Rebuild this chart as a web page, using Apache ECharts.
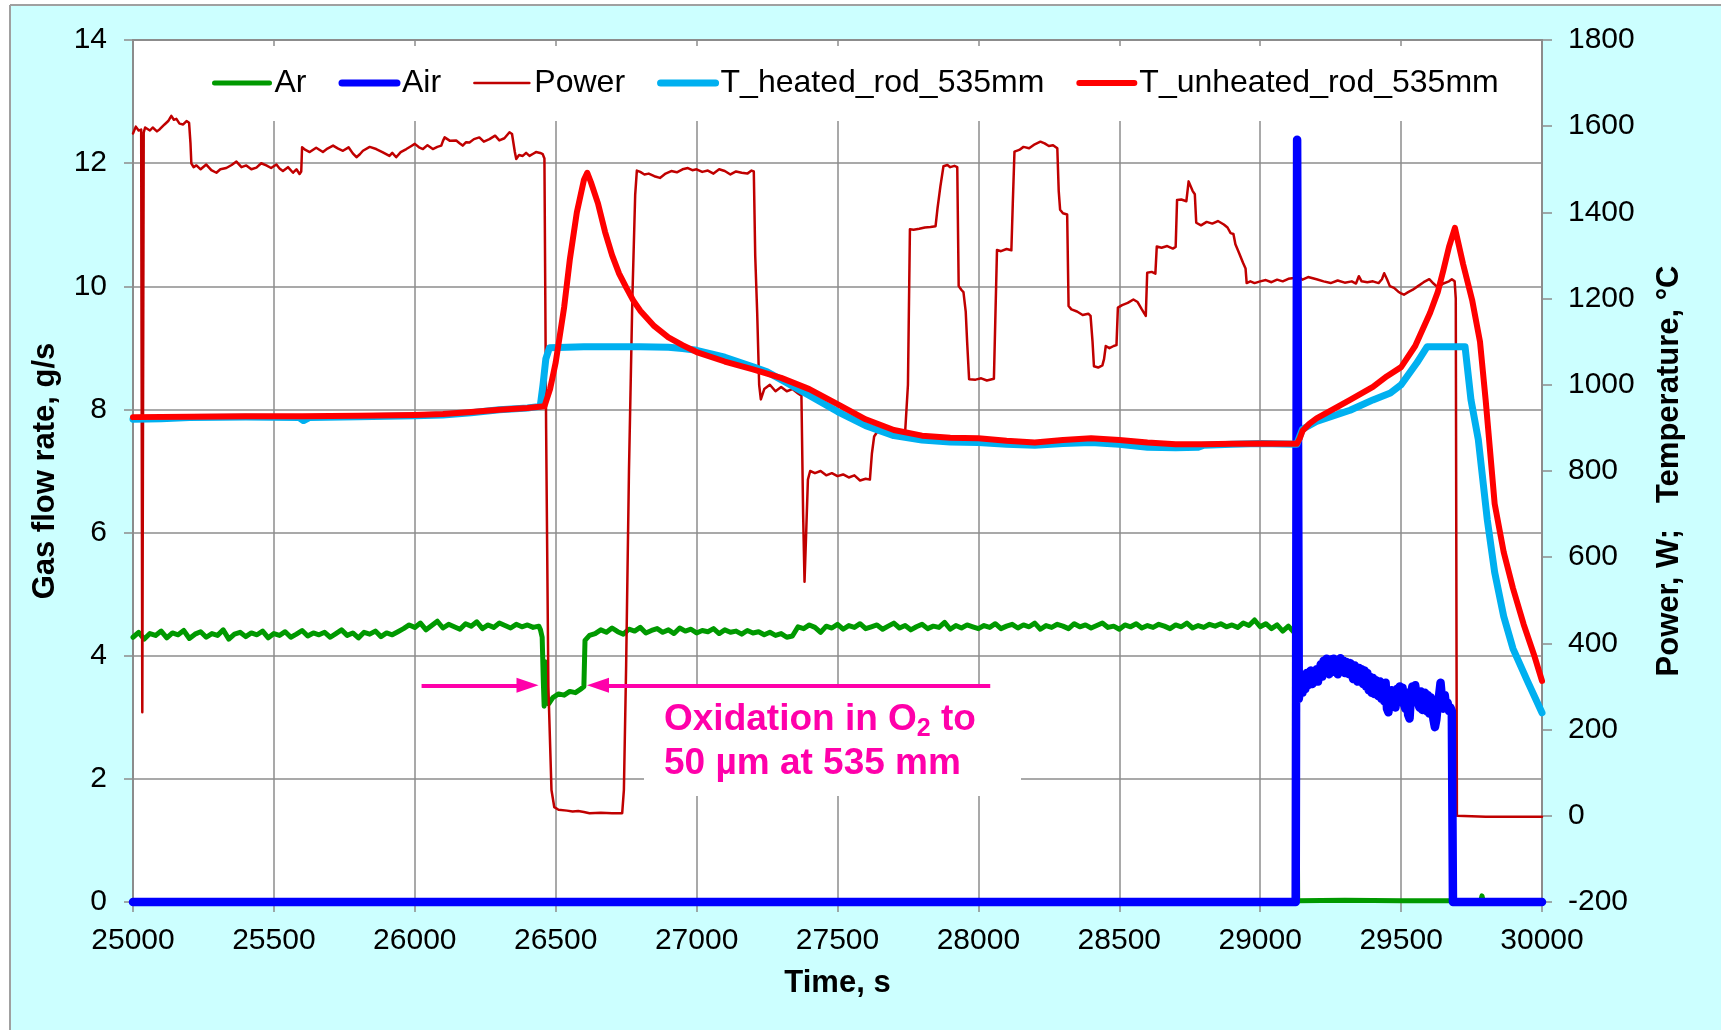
<!DOCTYPE html>
<html><head><meta charset="utf-8">
<script src="https://cdn.jsdelivr.net/npm/echarts@6/dist/echarts.min.js"></script>
<style>html,body{margin:0;padding:0;background:#fff;}#c{width:1721px;height:1030px;}</style>
</head><body><div id="c"></div>
<script>
// ---------------- DATA ----------------
const seriesNames = ['Ar', 'Air', 'Power', 'T_heated_rod_535mm', 'T_unheated_rod_535mm'];

// Ar gas flow rate (g/s), segments sampled every 20 s
const arSeg1Start = 25000;
const arSeg1 = [4.30,4.38,4.27,4.36,4.33,4.40,4.29,4.37,4.34,4.41,
  4.28,4.35,4.39,4.30,4.36,4.33,4.42,4.27,4.35,4.38,
  4.31,4.37,4.34,4.40,4.29,4.36,4.33,4.39,4.30,4.35,
  4.41,4.32,4.37,4.34,4.38,4.30,4.36,4.42,4.33,4.37,
  4.29,4.38,4.35,4.40,4.31,4.37,4.34,4.39];
const arSeg2Start = 25960;
const arSeg2 = [4.44,4.50,4.46,4.53,4.42,4.49,4.56,4.45,4.51,4.47,4.43,4.52,4.48,4.55,4.44,4.50,4.46,4.53,4.49,4.45,4.51,4.47,4.50,4.46,4.48];
const arDip = [[26446,4.42],[26452,4.30],[26456,3.6],[26459,3.18],[26463,3.9],[26468,3.3],[26475,3.22],[26490,3.32],[26510,3.38],[26530,3.36],[26550,3.42],[26570,3.40],[26590,3.46],[26600,3.5],[26604,4.25],[26620,4.33]];
const arSeg3Start = 26640;
const arSeg3 = [4.36,4.42,4.38,4.45,4.39,4.35,4.43,4.40,4.46,4.37,
  4.41,4.44,4.38,4.42,4.36,4.45,4.40,4.43,4.37,4.41,
  4.39,4.44,4.36,4.42,4.38,4.40,4.35,4.41,4.37,4.39,
  4.34,4.38,4.33,4.36,
  4.30,4.32,
  4.47,4.44,4.50,4.46,4.38,4.48,4.45,4.51,4.43,4.49,
  4.46,4.52,4.44,4.47,4.50,4.43,4.48,4.53,4.45,4.49,
  4.42,4.47,4.51,4.44,4.48,4.46,4.54,4.43,4.49,4.45,
  4.50,4.47,4.44,
  4.49,4.46,4.52,4.44,4.48,4.51,4.45,4.50,4.47,4.53,
  4.43,4.49,4.46,4.51,4.48,4.44,4.52,4.47,4.50,4.45,
  4.49,4.53,4.46,4.48,4.43,4.50,4.47,4.52,4.45,4.49,
  4.46,4.51,4.48,4.44,4.50,4.47,4.53,4.45,4.49,4.46,
  4.51,4.48,4.52,4.47,4.50,
  4.46,4.53,4.49,4.58,4.47,4.52,4.44,4.50,4.40,4.48,4.38];
const arTail = [[29128,4.42],[29133,0.02],[29300,0.03],[29500,0.02],[29680,0.02],[29686,0],[29782,0],[29787,0.1],[29792,0],[30000,0]];

// Air gas flow rate (g/s)
const airHead = [[25000,0],[29126,0],[29131,12.38],[29137,3.3]];
const airNoiseStart = 29140; // sampled every 5 s
const airNoise = [3.30,3.58,3.40,3.66,3.46,3.72,3.52,3.68,3.76,3.54,3.72,3.58,
  3.78,3.58,3.74,3.86,3.66,3.92,3.72,3.95,3.78,3.70,3.94,3.74,
  3.95,3.76,3.92,3.70,3.90,3.96,3.76,3.92,3.72,3.90,3.76,3.70,
  3.88,3.70,3.62,3.84,3.66,3.58,3.80,3.60,3.78,3.54,3.76,3.50,
  3.72,3.44,3.66,3.40,3.64,3.38,3.60,3.46,3.34,3.58,3.30,3.52,
  3.26,3.56,3.14,3.08,3.36,3.44,3.20,3.42,3.16,3.46,3.24,3.50,
  3.30,3.48,3.22,3.14,3.40,3.04,2.98,3.36,3.50,3.32,3.52,3.34,
  3.24,3.16,3.42,3.12,3.34,3.40,3.10,3.36,3.06,3.32,3.14,2.96,
  2.84,2.96,3.20,3.36,3.56,3.30,3.14,3.36,3.16,3.24,3.10,3.16,
  3.10];
const airTail = [[29684,0],[30000,0]];

// Power (W)
const powerData = [[25000,1583],[25010,1599],[25020,1590],[25029,1592],[25033,240],[25038,1585],[25043,1597],[25060,1590],[25070,1597],[25085,1588],[25095,1593],[25112,1604],[25125,1612],[25136,1624],[25145,1615],[25154,1617],[25165,1606],[25178,1604],[25190,1612],[25199,1608],[25204,1560],[25207,1514],[25215,1505],[25225,1509],[25240,1500],[25260,1511],[25278,1498],[25296,1492],[25310,1500],[25331,1503],[25350,1510],[25367,1518],[25385,1505],[25402,1509],[25420,1500],[25438,1504],[25455,1514],[25473,1509],[25490,1503],[25509,1511],[25520,1502],[25532,1496],[25550,1505],[25568,1492],[25580,1500],[25591,1489],[25597,1495],[25600,1551],[25612,1545],[25627,1540],[25650,1550],[25674,1540],[25690,1548],[25710,1555],[25728,1548],[25745,1543],[25765,1551],[25780,1537],[25793,1528],[25805,1535],[25816,1543],[25840,1552],[25863,1547],[25885,1540],[25910,1531],[25920,1538],[25934,1528],[25950,1540],[25970,1547],[25985,1553],[26000,1559],[26015,1551],[26029,1547],[26045,1556],[26064,1547],[26080,1552],[26094,1555],[26100,1566],[26106,1574],[26125,1566],[26147,1567],[26160,1560],[26170,1555],[26182,1563],[26194,1562],[26210,1570],[26229,1574],[26245,1564],[26265,1570],[26285,1578],[26300,1567],[26318,1572],[26336,1586],[26345,1582],[26350,1578],[26355,1540],[26360,1524],[26370,1533],[26383,1531],[26395,1538],[26407,1531],[26420,1536],[26430,1540],[26445,1538],[26454,1535],[26460,1525],[26466,900],[26474,300],[26485,60],[26495,20],[26510,14],[26540,12],[26560,10],[26580,11],[26600,9],[26620,6],[26660,7],[26700,6],[26736,6],[26742,60],[26750,350],[26760,800],[26772,1200],[26782,1440],[26788,1497],[26800,1494],[26815,1488],[26830,1490],[26850,1484],[26870,1480],[26890,1490],[26910,1496],[26930,1493],[26950,1500],[26969,1503],[26985,1498],[27000,1500],[27020,1494],[27040,1497],[27060,1490],[27080,1500],[27100,1496],[27120,1488],[27140,1495],[27160,1492],[27180,1490],[27195,1497],[27203,1495],[27208,1300],[27215,1167],[27222,1000],[27228,966],[27240,990],[27260,1000],[27280,985],[27300,995],[27320,985],[27340,990],[27360,980],[27372,975],[27378,700],[27383,543],[27388,640],[27395,780],[27403,800],[27420,795],[27440,800],[27460,790],[27480,795],[27500,788],[27520,792],[27540,785],[27560,790],[27580,778],[27600,782],[27615,780],[27622,840],[27630,880],[27640,890],[27660,893],[27680,888],[27700,892],[27720,895],[27740,890],[27750,1000],[27757,1361],[27770,1360],[27790,1362],[27810,1365],[27830,1366],[27848,1368],[27855,1410],[27865,1460],[27876,1507],[27890,1510],[27900,1505],[27915,1508],[27925,1505],[27930,1229],[27940,1220],[27947,1215],[27955,1170],[27960,1100],[27967,1013],[27990,1012],[28010,1015],[28030,1010],[28055,1014],[28060,1150],[28066,1313],[28080,1310],[28100,1315],[28117,1312],[28122,1420],[28128,1541],[28145,1545],[28160,1552],[28180,1549],[28200,1558],[28220,1564],[28235,1560],[28250,1554],[28265,1556],[28280,1549],[28285,1450],[28290,1406],[28300,1398],[28315,1395],[28320,1183],[28330,1175],[28350,1170],[28370,1162],[28390,1165],[28398,1160],[28405,1100],[28410,1043],[28425,1040],[28440,1045],[28446,1060],[28452,1090],[28465,1085],[28480,1090],[28490,1092],[28495,1179],[28510,1185],[28530,1190],[28550,1198],[28565,1192],[28580,1175],[28594,1160],[28599,1260],[28615,1262],[28628,1258],[28633,1321],[28650,1318],[28670,1322],[28690,1316],[28700,1320],[28705,1429],[28720,1430],[28738,1426],[28746,1472],[28752,1476],[28760,1450],[28768,1442],[28773,1376],[28790,1370],[28810,1378],[28830,1374],[28850,1380],[28871,1372],[28884,1365],[28895,1352],[28905,1350],[28912,1326],[28925,1306],[28939,1283],[28948,1270],[28952,1236],[28965,1240],[28980,1236],[29000,1240],[29020,1243],[29040,1238],[29060,1244],[29080,1240],[29100,1246],[29120,1248],[29135,1252],[29150,1244],[29170,1250],[29200,1245],[29225,1240],[29250,1236],[29275,1242],[29300,1237],[29325,1240],[29340,1235],[29350,1252],[29360,1240],[29380,1238],[29400,1240],[29420,1236],[29432,1245],[29440,1259],[29450,1245],[29460,1229],[29475,1225],[29490,1216],[29500,1212],[29510,1209],[29525,1215],[29540,1220],[29560,1229],[29580,1238],[29600,1245],[29615,1235],[29630,1226],[29650,1235],[29670,1240],[29680,1245],[29690,1240],[29694,1200],[29698,0],[29701,-2],[29750,-1],[29800,-2],[30000,-2]];

// Temperatures (°C)
const tHeatedData = [[25000,920],[25100,921],[25200,924],[25400,925],[25590,924],[25605,917],[25625,924],[25800,926],[26000,928],[26100,930],[26200,935],[26300,942],[26400,946],[26445,950],[26455,1000],[26465,1060],[26478,1086],[26600,1088],[26800,1088],[26900,1087],[26950,1084],[27000,1080],[27100,1064],[27200,1042],[27250,1030],[27300,1012],[27400,975],[27500,938],[27600,905],[27700,882],[27800,872],[27900,867],[28000,866],[28100,862],[28200,860],[28300,864],[28400,866],[28500,862],[28600,855],[28700,854],[28780,855],[28800,860],[28900,862],[29000,864],[29130,862],[29140,880],[29150,897],[29200,915],[29319,941],[29400,965],[29462,981],[29500,1000],[29556,1051],[29592,1088],[29727,1088],[29748,965],[29774,873],[29806,686],[29832,565],[29864,463],[29897,388],[29948,313],[30000,239]];
const tUnheatedData = [[25000,925],[25200,926],[25400,927],[25600,927],[25800,928],[26000,930],[26100,932],[26200,937],[26300,942],[26400,946],[26460,950],[26480,990],[26500,1052],[26530,1180],[26550,1290],[26575,1400],[26600,1475],[26612,1492],[26625,1470],[26650,1421],[26675,1355],[26700,1301],[26725,1258],[26750,1226],[26775,1196],[26800,1172],[26850,1136],[26900,1110],[26950,1092],[27000,1076],[27100,1054],[27200,1036],[27300,1016],[27400,990],[27500,955],[27600,920],[27700,895],[27800,882],[27900,877],[28000,876],[28100,870],[28200,866],[28300,872],[28400,876],[28500,872],[28600,866],[28700,862],[28800,862],[28900,863],[29000,864],[29130,863],[29140,875],[29150,893],[29175,910],[29200,922],[29250,940],[29319,965],[29400,995],[29450,1020],[29500,1041],[29550,1090],[29603,1167],[29630,1215],[29650,1266],[29670,1320],[29691,1364],[29720,1280],[29752,1197],[29780,1100],[29800,965],[29832,724],[29864,612],[29897,528],[29935,444],[29974,369],[30000,313]];

// Axes
const xMin = 25000, xMax = 30000, xStep = 500;
const yLeftMin = 0, yLeftMax = 14, yLeftStep = 2;
const yRightMin = -200, yRightMax = 1800, yRightStep = 200;

// Annotation (oxidation period arrow)
const oxLevel = 3.52;
const oxSpan = [26024, 28042];
const oxArrowEnds = [26400, 26650];
const oxText = 'Oxidation in O{s|2} to\n50 µm at 535 mm';

// ---------------- CHART ----------------
function seq(start, step, vals) { return vals.map((v, i) => [start + i * step, v]); }
const arData = [].concat(seq(arSeg1Start, 20, arSeg1), seq(arSeg2Start, 20, arSeg2), arDip, seq(arSeg3Start, 20, arSeg3), arTail);
const airData = [].concat(airHead, seq(airNoiseStart, 5, airNoise), airTail);

const FONT = "'Liberation Sans', Arial, sans-serif";
const GRID_C = '#8c8c8c';
const chart = echarts.init(document.getElementById('c'), null, {width: 1721, height: 1030, renderer: 'canvas'});

const colors = {Ar: '#009900', Air: '#0000FF', Power: '#C00000', T_heated_rod_535mm: '#00B0F0', T_unheated_rod_535mm: '#FF0000'};
const widths = {Ar: 5, Air: 8.5, Power: 2.5, T_heated_rod_535mm: 7, T_unheated_rod_535mm: 6};

function lineSeries(name, data, yAxisIndex, z) {
  return {
    name, type: 'line', data, yAxisIndex, z, symbol: 'none', showSymbol: false,
    animation: false, silent: true, clip: false,
    lineStyle: {color: colors[name], width: widths[name], cap: 'round', join: 'round'},
    itemStyle: {color: colors[name]}
  };
}

const arS = lineSeries('Ar', arData, 0, 2);
arS.markLine = {
  silent: true, animation: false, z: 7,
  symbol: ['none', 'triangle'], symbolSize: [15, 22],
  lineStyle: {color: '#FF00AA', width: 4, type: 'solid'},
  label: {show: false},
  data: [
    [{coord: [oxSpan[0], oxLevel]}, {coord: [oxArrowEnds[0], oxLevel]}],
    [{coord: [oxSpan[1], oxLevel]}, {coord: [oxArrowEnds[1], oxLevel]}]
  ]
};

const option = {
  backgroundColor: '#CCFFFF',
  animation: false,
  textStyle: {fontFamily: FONT},
  grid: {left: 133, top: 40, right: 179, bottom: 128, show: true, backgroundColor: '#fff', borderColor: GRID_C, borderWidth: 2, containLabel: false},
  legend: {
    data: seriesNames.map(n => ({name: n, itemStyle: {opacity: 0}, lineStyle: {width: Math.min(widths[n], 7), cap: 'round', color: colors[n]}})),
    left: 190, top: 46, padding: [21, 22, 22, 22],
    itemWidth: 55, itemHeight: 14, itemGap: 32,
    backgroundColor: '#fff', borderWidth: 0,
    textStyle: {fontSize: 32, color: '#000', fontFamily: FONT},
    selectedMode: false
  },
  xAxis: {
    type: 'value', min: xMin, max: xMax, interval: xStep,
    name: 'Time, s', nameLocation: 'middle', nameGap: 66,
    nameTextStyle: {fontSize: 31, fontWeight: 'bold', color: '#000', fontFamily: FONT},
    axisLine: {show: true, lineStyle: {color: GRID_C, width: 2}},
    axisTick: {show: true, inside: false, length: 10, lineStyle: {color: GRID_C, width: 1.5}},
    axisLabel: {fontSize: 30, color: '#000', margin: 24, formatter: v => String(v), fontFamily: FONT},
    splitLine: {show: true, lineStyle: {color: GRID_C, width: 1.5}}
  },
  yAxis: [
    {
      type: 'value', min: yLeftMin, max: yLeftMax, interval: yLeftStep, position: 'left',
      name: 'Gas flow rate, g/s', nameLocation: 'middle', nameGap: 72, nameRotate: 90,
      nameTextStyle: {fontSize: 31, fontWeight: 'bold', color: '#000', fontFamily: FONT},
      axisLine: {show: true, lineStyle: {color: GRID_C, width: 2}},
      axisTick: {show: true, inside: false, length: 9, lineStyle: {color: GRID_C, width: 1.5}},
      axisLabel: {fontSize: 30, color: '#000', margin: 26, formatter: v => String(v), fontFamily: FONT},
      splitLine: {show: true, lineStyle: {color: GRID_C, width: 1.5}}
    },
    {
      type: 'value', min: yRightMin, max: yRightMax, interval: yRightStep, position: 'right',
      name: 'Power, W;   Temperature, °C', nameLocation: 'middle', nameGap: 112, nameRotate: 90,
      nameTextStyle: {fontSize: 31, fontWeight: 'bold', color: '#000', fontFamily: FONT},
      axisLine: {show: true, lineStyle: {color: GRID_C, width: 2}},
      axisTick: {show: true, inside: false, length: 10, lineStyle: {color: GRID_C, width: 1.5}},
      axisLabel: {fontSize: 30, color: '#000', margin: 26, formatter: v => String(v), fontFamily: FONT},
      splitLine: {show: false}
    }
  ],
  series: [
    arS,
    lineSeries('Power', powerData, 1, 3),
    lineSeries('Air', airData, 0, 4),
    lineSeries('T_heated_rod_535mm', tHeatedData, 1, 5),
    lineSeries('T_unheated_rod_535mm', tUnheatedData, 1, 6)
  ],
  graphic: [
    {type: 'rect', left: 0, top: 0, z: 0, silent: true, shape: {width: 10, height: 1030}, style: {fill: '#fff'}},
    {type: 'rect', left: 0, top: 0, z: 0, silent: true, shape: {width: 1721, height: 5}, style: {fill: '#fff'}},
    {type: 'line', silent: true, z: 0, shape: {x1: 10, y1: 5, x2: 10, y2: 1030}, style: {stroke: '#a0a0a0', lineWidth: 2}},
    {type: 'line', silent: true, z: 0, shape: {x1: 10, y1: 5, x2: 1721, y2: 5}, style: {stroke: '#a0a0a0', lineWidth: 2}},
    {type: 'rect', silent: true, z: 1, left: 644, top: 686, shape: {width: 377, height: 110}, style: {fill: '#fff'}},
    {type: 'text', silent: true, z: 10, left: 664, top: 698,
      style: {text: oxText, fill: '#FF00AA', font: 'bold 37px ' + FONT, lineHeight: 44,
        rich: {s: {fontSize: 25, fontWeight: 'bold', fill: '#FF00AA', fontFamily: FONT, verticalAlign: 'bottom', lineHeight: 40}}}}
  ]
};
chart.setOption(option);
</script></body></html>
